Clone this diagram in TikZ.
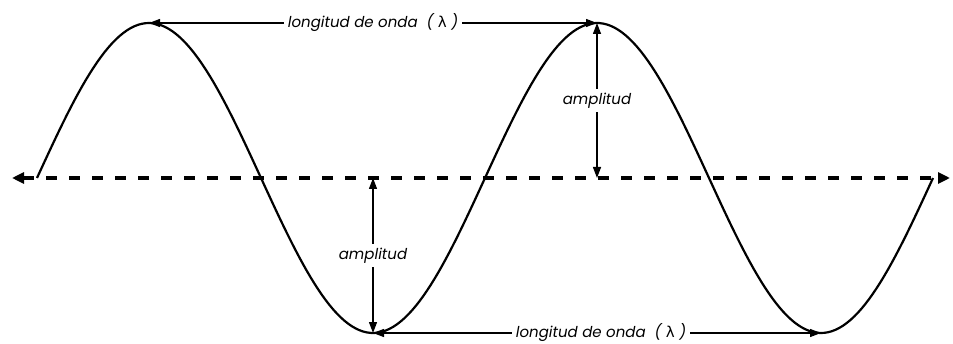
\documentclass[tikz,border=0pt]{standalone}
\usepackage{fontspec}
\setmainfont{Poppins}
\newfontfamily\dvfont{DejaVu Sans}
\usetikzlibrary{arrows.meta}
\begin{document}
\begin{tikzpicture}[x=1pt,y=1pt,
  wave/.style={line width=2.2pt},
  axisline/.style={line width=3.2pt, dash pattern=on 11pt off 12pt, {Triangle[length=12pt,width=11pt]}-{Triangle[length=12pt,width=11pt]}},
  dim/.style={line width=1.3pt, {Triangle[length=11pt,width=8pt]}-{Triangle[length=11pt,width=8pt]}},
  lbl/.style={fill=white, inner sep=4pt, font=\itshape\fontsize{15}{18}\selectfont}]
\useasboundingbox (0,0) rectangle (953,343);
\fill[white] (0,0) rectangle (953,343);
% axis
\coordinate (axL) at (12,165);
\coordinate (axR) at (950,165);
\draw[axisline] (axL) -- (axR);
% wave
\draw[wave] plot[domain=37:933, samples=240] (\x, {165+155*sin((\x-37)/448*360)});
% key points
\coordinate (p1) at (149,320);
\coordinate (p2) at (597,320);
\coordinate (t1) at (373,10);
\coordinate (t2) at (821,10);
\coordinate (a2) at (597,165);
\coordinate (a1) at (373,165);
% wavelength arrows
\draw[dim] (p1) -- (p2) node[lbl, midway] (wl1) {longitud de onda \ ( {\dvfont\upshape λ} )};
\draw[dim] (t1) -- (t2) node[lbl, midway, xshift=4pt] (wl2) {longitud de onda \ ( {\dvfont\upshape λ} )};
% amplitude arrows
\draw[dim] (p2) -- (a2) node[lbl, midway] (am2) {amplitud};
\draw[dim] (a1) -- (t1) node[lbl, midway] (am1) {amplitud};
\end{tikzpicture}
\end{document}
